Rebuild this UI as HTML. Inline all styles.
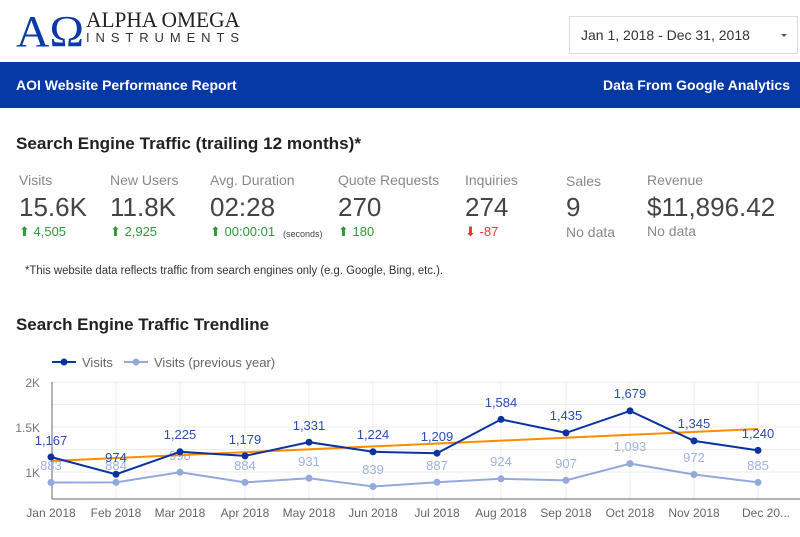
<!DOCTYPE html>
<html><head><meta charset="utf-8"><style>
body{margin:0;width:800px;height:532px;overflow:hidden;background:#fff;font-family:"Liberation Sans",sans-serif}
</style></head><body>
<svg width="800" height="532" viewBox="0 0 800 532" xmlns="http://www.w3.org/2000/svg" font-family="Liberation Sans Narrow, Liberation Sans, sans-serif">
<!-- logo -->
<text x="16" y="46" font-family="Liberation Serif,serif" font-size="44" fill="#0b3aa8" textLength="68" lengthAdjust="spacingAndGlyphs">AΩ</text>
<text x="86" y="27" font-family="Liberation Serif,serif" font-size="22" fill="#222" textLength="154" lengthAdjust="spacingAndGlyphs">ALPHA OMEGA</text>
<text x="86" y="42" font-family="Liberation Sans,sans-serif" font-size="13" fill="#333" textLength="153" lengthAdjust="spacing">INSTRUMENTS</text>
<!-- date box -->
<rect x="569.5" y="16.5" width="228" height="37" fill="#fff" stroke="#ddd"/>
<text x="581" y="40" font-size="14" fill="#333" font-family="Liberation Sans,sans-serif">Jan 1, 2018 - Dec 31, 2018</text>
<path d="M781 34 l6 0 l-3 3z" fill="#555"/>
<!-- banner -->
<rect x="0" y="62" width="800" height="46" fill="#0639a6"/>
<text x="16" y="90" font-size="14" font-weight="bold" fill="#fff" font-family="Liberation Sans,sans-serif">AOI Website Performance Report</text>
<text x="790" y="90" font-size="14" font-weight="bold" fill="#fff" text-anchor="end" font-family="Liberation Sans,sans-serif">Data From Google Analytics</text>
<!-- section title -->
<text x="16" y="149" font-size="17" font-weight="bold" fill="#222" font-family="Liberation Sans,sans-serif" textLength="345" lengthAdjust="spacingAndGlyphs">Search Engine Traffic (trailing 12 months)*</text>
<g fill="#888" font-size="14">
<text x="19" y="185">Visits</text><text x="110" y="185">New Users</text><text x="210" y="185">Avg. Duration</text>
<text x="338" y="185">Quote Requests</text><text x="465" y="185">Inquiries</text><text x="566" y="186">Sales</text><text x="647" y="185">Revenue</text>
</g>
<g fill="#444" font-size="26">
<text x="19" y="216">15.6K</text><text x="110" y="216">11.8K</text><text x="210" y="216">02:28</text>
<text x="338" y="216">270</text><text x="465" y="216">274</text><text x="566" y="216">9</text><text x="647" y="216">$11,896.42</text>
</g>
<g fill="#2e9a3a" font-size="13">
<text x="19" y="236">⬆ 4,505</text><text x="110" y="236">⬆ 2,925</text><text x="210" y="236">⬆ 00:00:01</text><text x="338" y="236">⬆ 180</text>
</g>
<text x="283" y="237" font-size="9" fill="#444">(seconds)</text>
<text x="465" y="236" font-size="13" fill="#e53935">⬇ -87</text>
<text x="566" y="237" font-size="14" fill="#888">No data</text><text x="647" y="236" font-size="14" fill="#888">No data</text>
<text x="25" y="274" font-size="11.5" fill="#333" font-family="Liberation Sans,sans-serif" textLength="418" lengthAdjust="spacingAndGlyphs">*This website data reflects traffic from search engines only (e.g. Google, Bing, etc.).</text>
<text x="16" y="330" font-size="17" font-weight="bold" fill="#222" font-family="Liberation Sans,sans-serif" textLength="253" lengthAdjust="spacingAndGlyphs">Search Engine Traffic Trendline</text>
<!-- legend -->
<line x1="52" y1="362" x2="76" y2="362" stroke="#0b33a0" stroke-width="2"/><circle cx="64" cy="362" r="3.5" fill="#0b33a0"/>
<text x="82" y="367" font-size="13" fill="#666">Visits</text>
<line x1="124" y1="362" x2="148" y2="362" stroke="#93a9dd" stroke-width="2"/><circle cx="136" cy="362" r="3.5" fill="#93a9dd"/>
<text x="154" y="367" font-size="13" fill="#666">Visits (previous year)</text>
<!-- grid -->
<g stroke="#eee">
<line x1="52" y1="382" x2="800" y2="382"/><line x1="52" y1="404.5" x2="800" y2="404.5"/><line x1="52" y1="427" x2="800" y2="427"/><line x1="52" y1="449.5" x2="800" y2="449.5"/><line x1="52" y1="472" x2="800" y2="472"/>
<line x1="116" y1="382" x2="116" y2="499"/><line x1="180" y1="382" x2="180" y2="499"/><line x1="245" y1="382" x2="245" y2="499"/><line x1="309" y1="382" x2="309" y2="499"/><line x1="373" y1="382" x2="373" y2="499"/><line x1="437" y1="382" x2="437" y2="499"/><line x1="501" y1="382" x2="501" y2="499"/><line x1="566" y1="382" x2="566" y2="499"/><line x1="630" y1="382" x2="630" y2="499"/><line x1="694" y1="382" x2="694" y2="499"/><line x1="758" y1="382" x2="758" y2="499"/>
</g>
<line x1="52" y1="382" x2="52" y2="499" stroke="#999" stroke-width="1.5"/>
<line x1="52" y1="499" x2="800" y2="499" stroke="#999" stroke-width="1.5"/>
<g font-size="12" fill="#777" text-anchor="end"><text x="40" y="387">2K</text><text x="40" y="432">1.5K</text><text x="40" y="477">1K</text></g>
<g font-size="12" fill="#666" text-anchor="middle">
<text x="51" y="517">Jan 2018</text><text x="116" y="517">Feb 2018</text><text x="180" y="517">Mar 2018</text><text x="245" y="517">Apr 2018</text><text x="309" y="517">May 2018</text><text x="373" y="517">Jun 2018</text><text x="437" y="517">Jul 2018</text><text x="501" y="517">Aug 2018</text><text x="566" y="517">Sep 2018</text><text x="630" y="517">Oct 2018</text><text x="694" y="517">Nov 2018</text><text x="766" y="517">Dec 20...</text>
</g>
<!-- prev year -->
<polyline fill="none" stroke="#93a9dd" stroke-width="2" points="51,482.5 116,482.4 180,472.2 245,482.4 309,478.2 373,486.5 437,482.2 501,478.8 566,480.4 630,463.6 694,474.5 758,482.4"/>
<g fill="#93a9dd"><circle cx="51" cy="482.5" r="3.5"/><circle cx="116" cy="482.4" r="3.5"/><circle cx="180" cy="472.2" r="3.5"/><circle cx="245" cy="482.4" r="3.5"/><circle cx="309" cy="478.2" r="3.5"/><circle cx="373" cy="486.5" r="3.5"/><circle cx="437" cy="482.2" r="3.5"/><circle cx="501" cy="478.8" r="3.5"/><circle cx="566" cy="480.4" r="3.5"/><circle cx="630" cy="463.6" r="3.5"/><circle cx="694" cy="474.5" r="3.5"/><circle cx="758" cy="482.4" r="3.5"/></g>
<g font-size="13" fill="#9fb2e0" text-anchor="middle">
<text x="51" y="470">883</text><text x="116" y="470">884</text><text x="180" y="460">998</text><text x="245" y="470">884</text><text x="309" y="466">931</text><text x="373" y="474">839</text><text x="437" y="470">887</text><text x="501" y="466">924</text><text x="566" y="468">907</text><text x="630" y="451">1,093</text><text x="694" y="462">972</text><text x="758" y="470">885</text>
</g>
<!-- trend -->
<line x1="51" y1="461" x2="758" y2="429" stroke="#ff8c00" stroke-width="2"/>
<!-- visits -->
<polyline fill="none" stroke="#0b33a0" stroke-width="2" points="51,457 116,474.3 180,451.8 245,455.9 309,442.2 373,451.8 437,453.2 501,419.4 566,432.9 630,410.9 694,440.9 758,450.4"/>
<g fill="#0b33a0"><circle cx="51" cy="457" r="3.5"/><circle cx="116" cy="474.3" r="3.5"/><circle cx="180" cy="451.8" r="3.5"/><circle cx="245" cy="455.9" r="3.5"/><circle cx="309" cy="442.2" r="3.5"/><circle cx="373" cy="451.8" r="3.5"/><circle cx="437" cy="453.2" r="3.5"/><circle cx="501" cy="419.4" r="3.5"/><circle cx="566" cy="432.9" r="3.5"/><circle cx="630" cy="410.9" r="3.5"/><circle cx="694" cy="440.9" r="3.5"/><circle cx="758" cy="450.4" r="3.5"/></g>
<g font-size="13" fill="#2a4db0" text-anchor="middle">
<text x="51" y="445">1,167</text><text x="116" y="462">974</text><text x="180" y="439">1,225</text><text x="245" y="444">1,179</text><text x="309" y="430">1,331</text><text x="373" y="439">1,224</text><text x="437" y="441">1,209</text><text x="501" y="407">1,584</text><text x="566" y="420">1,435</text><text x="630" y="398">1,679</text><text x="694" y="428">1,345</text><text x="758" y="438">1,240</text>
</g>
</svg>
</body></html>
